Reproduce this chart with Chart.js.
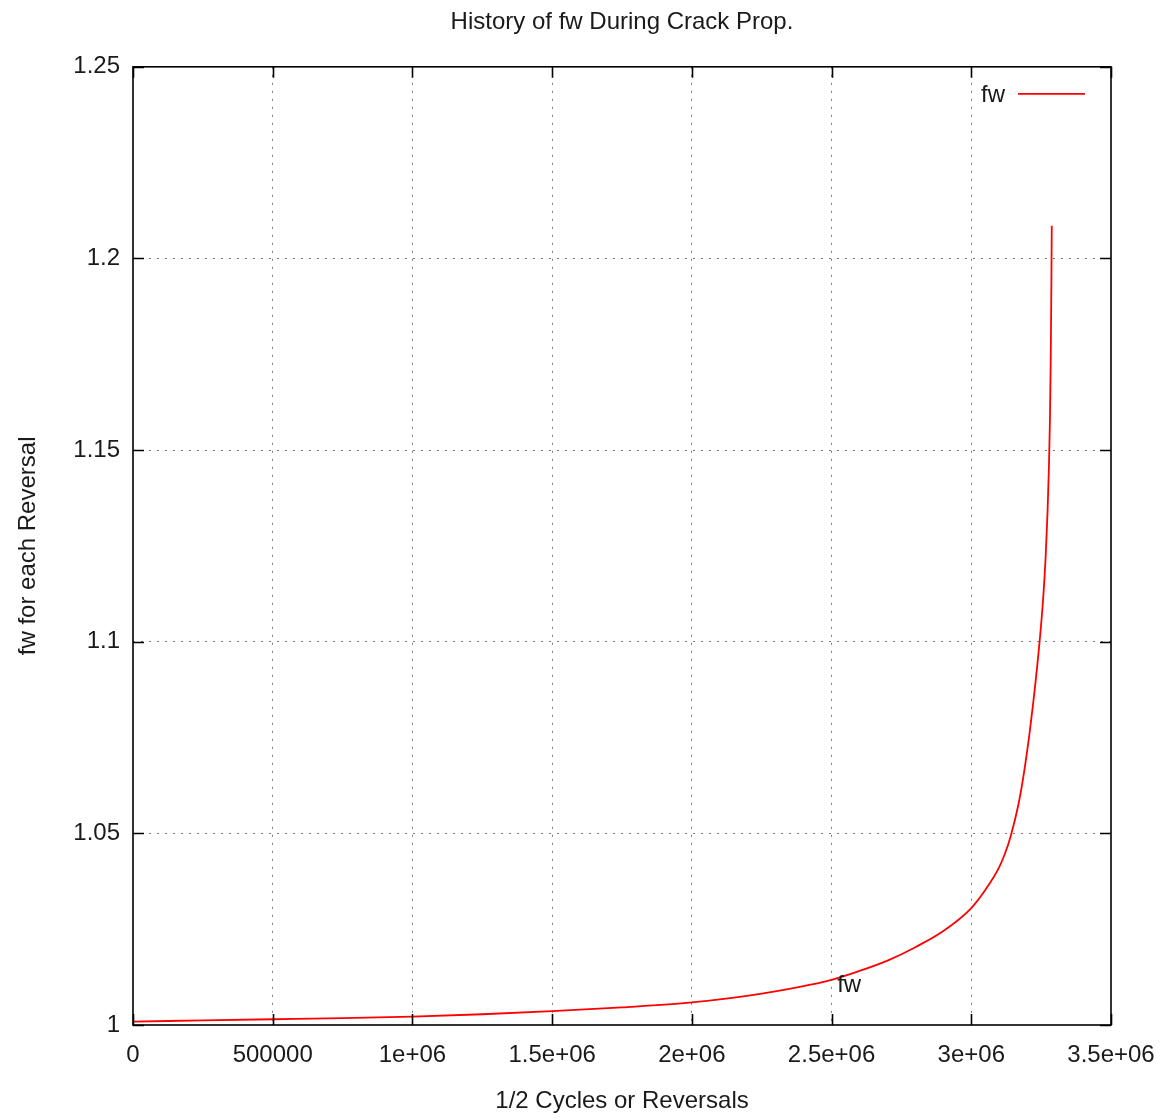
<!DOCTYPE html>
<html>
<head>
<meta charset="utf-8">
<title>History of fw During Crack Prop.</title>
<script src="https://cdn.jsdelivr.net/npm/chart.js@4/dist/chart.umd.min.js"></script>
<style>
  html, body { margin: 0; padding: 0; background: #fff; }
  #wrap { width: 1160px; height: 1120px; }
</style>
</head>
<body>
<div id="wrap"><canvas id="chart" width="1160" height="1120"></canvas></div>
<script>
// 1/2 cycles (reversals) and fw
const reversals = [0, 250000, 500000, 750000, 1000000, 1250000, 1500000, 1750000,
  2000000, 2250000, 2500000, 2600000, 2700000, 2800000, 2900000, 3000000, 3050000,
  3100000, 3120000, 3140000, 3170000, 3190000, 3210000, 3230000, 3245000, 3257000,
  3266000, 3273000, 3278000, 3281500, 3284500, 3286500, 3288000];
const fwValues = [1.0009, 1.0012, 1.0015, 1.0018, 1.0022, 1.0028, 1.0036, 1.0046,
  1.0059, 1.0082, 1.0118, 1.0141, 1.0168, 1.0203, 1.0245, 1.0305, 1.0352,
  1.0412, 1.0446, 1.0490, 1.0580, 1.0665, 1.0770, 1.0895, 1.1005, 1.1110,
  1.1220, 1.1340, 1.1460, 1.1580, 1.1750, 1.1920, 1.2085];

const xTicks = [0, 500000, 1000000, 1500000, 2000000, 2500000, 3000000, 3500000];
const xTickLabels = ['0', '500000', '1e+06', '1.5e+06', '2e+06', '2.5e+06', '3e+06', '3.5e+06'];
const yTicks = [1, 1.05, 1.1, 1.15, 1.2, 1.25];
const yTickLabels = ['1', '1.05', '1.1', '1.15', '1.2', '1.25'];

const seriesName = 'fw';
const curveLabel = { x: 2520000, y: 1.0104, text: 'fw' };

const FONT = '"Liberation Sans", Arial, Helvetica, sans-serif';
const TEXT = '#1a1a1a';
const RED = '#ff0000';

// gnuplot style: closed frame, inward tics on all sides, key top right
const gnuplotFrame = {
  id: 'gnuplotFrame',
  afterDatasetsDraw(chart) {
    const { ctx, chartArea: a, scales: { x, y } } = chart;
    const tl = 11;
    ctx.save();
    ctx.strokeStyle = '#000';
    ctx.lineWidth = 1.6;
    ctx.strokeRect(a.left, a.top, a.right - a.left, a.bottom - a.top);

    ctx.beginPath();
    xTicks.forEach(v => {
      const px = Math.round(x.getPixelForValue(v)) + 0.5;
      ctx.moveTo(px, a.bottom); ctx.lineTo(px, a.bottom - tl);
      ctx.moveTo(px, a.top); ctx.lineTo(px, a.top + tl);
    });
    yTicks.forEach(v => {
      const py = Math.round(y.getPixelForValue(v)) + 0.5;
      ctx.moveTo(a.left, py); ctx.lineTo(a.left + tl, py);
      ctx.moveTo(a.right, py); ctx.lineTo(a.right - tl, py);
    });
    ctx.stroke();

    // key
    ctx.font = '24px ' + FONT;
    ctx.fillStyle = TEXT;
    ctx.textAlign = 'right';
    ctx.textBaseline = 'middle';
    ctx.fillText(seriesName, a.right - 106, a.top + 29);
    ctx.strokeStyle = RED;
    ctx.lineWidth = 1.8;
    ctx.beginPath();
    ctx.moveTo(a.right - 93, a.top + 27);
    ctx.lineTo(a.right - 26, a.top + 27);
    ctx.stroke();

    // label on the curve
    ctx.textAlign = 'left';
    ctx.fillText(curveLabel.text, x.getPixelForValue(curveLabel.x), y.getPixelForValue(curveLabel.y));
    ctx.restore();
  }
};

const gridColor = edges => c =>
  (c.tick && edges.includes(c.tick.value)) ? 'rgba(0,0,0,0)' : 'rgba(90,90,90,0.8)';

new Chart(document.getElementById('chart'), {
  type: 'scatter',
  data: {
    datasets: [{
      label: seriesName,
      data: reversals.map((n, i) => ({ x: n, y: fwValues[i] })),
      showLine: true,
      borderColor: RED,
      borderWidth: 1.8,
      pointRadius: 0,
      cubicInterpolationMode: 'monotone',
      fill: false
    }]
  },
  options: {
    responsive: false,
    animation: false,
    devicePixelRatio: 1,
    layout: { padding: { left: 0, right: 49, top: 0, bottom: 0 } },
    plugins: {
      legend: { display: false },
      tooltip: { enabled: false },
      title: {
        display: true,
        fullSize: false,
        text: 'History of fw During Crack Prop.',
        color: TEXT,
        font: { family: FONT, size: 24, weight: 'normal' },
        padding: { top: 8, bottom: 30 }
      }
    },
    scales: {
      x: {
        type: 'linear',
        min: 0,
        max: 3500000,
        afterFit: s => { s.height = 95; s.paddingLeft = 0; s.paddingRight = 0; },
        afterBuildTicks: s => { s.ticks = xTicks.map(v => ({ value: v })); },
        ticks: {
          autoSkip: false,
          maxRotation: 0,
          padding: 16,
          color: TEXT,
          font: { family: FONT, size: 24 },
          callback: v => xTickLabels[xTicks.indexOf(v)]
        },
        grid: { drawTicks: false, color: gridColor([0, 3500000]), lineWidth: 1 },
        border: { display: false, dash: [2, 6] },
        title: {
          display: true,
          text: '1/2 Cycles or Reversals',
          color: TEXT,
          font: { family: FONT, size: 24 },
          padding: { top: 0, bottom: 4 }
        }
      },
      y: {
        min: 1,
        max: 1.25,
        afterFit: s => { s.width = 133; s.paddingTop = 0; s.paddingBottom = 0; },
        afterBuildTicks: s => { s.ticks = yTicks.map(v => ({ value: v })); },
        ticks: {
          autoSkip: false,
          padding: 13,
          color: TEXT,
          font: { family: FONT, size: 24 },
          callback: v => yTickLabels[yTicks.indexOf(v)]
        },
        grid: { drawTicks: false, color: gridColor([1, 1.25]), lineWidth: 1 },
        border: { display: false, dash: [2, 6] },
        title: {
          display: true,
          text: 'fw for each Reversal',
          color: TEXT,
          font: { family: FONT, size: 24 },
          padding: { top: 14, bottom: 0 }
        }
      }
    }
  },
  plugins: [gnuplotFrame]
});
</script>
</body>
</html>
